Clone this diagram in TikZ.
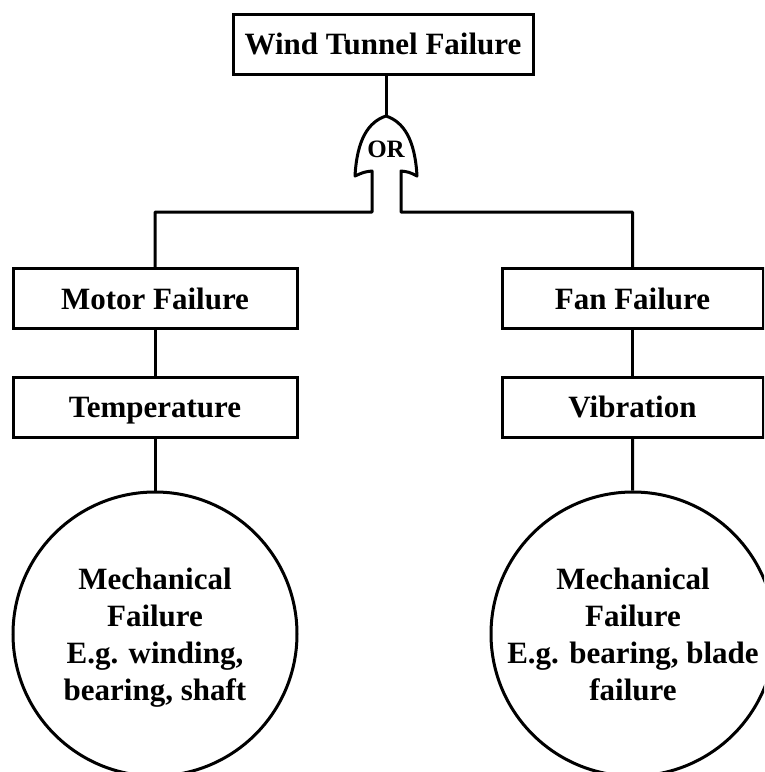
\documentclass[tikz,border=0pt]{standalone}
\usepackage{fontspec}
\setmainfont{Liberation Serif}
\begin{document}
\begin{tikzpicture}[x=1pt,y=-1pt,
  every node/.style={font=\fontsize{31}{37}\selectfont\bfseries, inner sep=0pt},
  fbox/.style={draw, line width=3pt, minimum height=60pt, text height=25pt, text depth=4pt},
  event/.style={draw, circle, line width=3pt, minimum size=284pt, align=center, text depth=0pt},
  link/.style={line width=3pt}]
\useasboundingbox (0,0) rectangle (764,772);
\begin{scope}
\clip (0,0) rectangle (764,772);

% boxes
\node[fbox, minimum width=300pt] (top) at (383,44) {Wind Tunnel Failure};
\node[fbox, minimum width=284pt] (motor) at (155,298.5) {Motor Failure};
\node[fbox, minimum width=284pt] (temp) at (155,407) {Temperature};
\node[fbox, minimum width=261pt] (fan) at (632.5,298.5) {Fan Failure};
\node[fbox, minimum width=261pt] (vib) at (632.5,407) {Vibration};

% basic events
\node[event] (mechL) at (155,634) {Mechanical\\Failure\\E.g. winding,\\bearing, shaft};
\node[event] (mechR) at (633,634) {Mechanical\\Failure\\E.g. bearing, blade\\failure};

% OR gate
\coordinate (gtop) at (386,116);
\coordinate (gl) at (355,176);
\coordinate (gr) at (417,176);
\coordinate (legL) at (372,171);
\coordinate (legR) at (401,171);
\node[font=\fontsize{25}{29}\selectfont\bfseries] (or) at (386,149) {OR};

\draw[link] (top.south -| gtop) -- (gtop);
\draw[link, line join=round]
  (motor.north) -- (motor.north |- 0,212) -- (legL |- 0,212) -- (legL)
  .. controls (364,172) .. (gl)
  .. controls (357,140) and (368,122) .. (gtop)
  .. controls (404,122) and (415,140) .. (gr)
  .. controls (409,172) .. (legR)
  -- (legR |- 0,212) -- (fan.north |- 0,212) -- (fan.north);

% connectors
\draw[link] (motor) -- (temp);
\draw[link] (temp) -- (mechL);
\draw[link] (fan) -- (vib);
\draw[link] (vib) -- (mechR);
\end{scope}
\end{tikzpicture}
\end{document}
